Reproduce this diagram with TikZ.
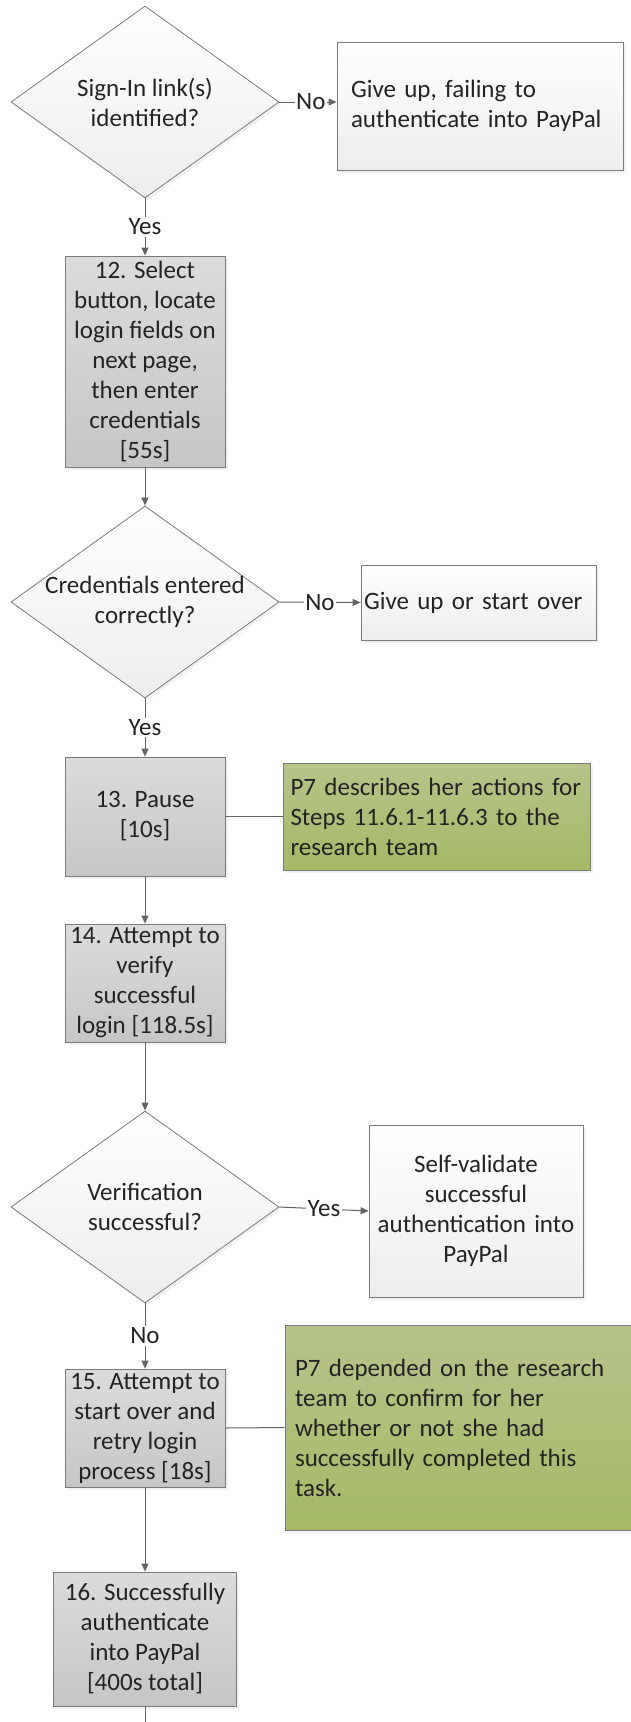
\documentclass[tikz,border=0pt]{standalone}
\usepackage{fontspec}
\setmainfont{Carlito}
\usetikzlibrary{shapes.geometric,arrows.meta,shadows}

\definecolor{stepTop}{RGB}{220,220,220}
\definecolor{stepBottom}{RGB}{198,198,198}
\definecolor{noteTop}{RGB}{182,196,138}
\definecolor{noteBottom}{RGB}{165,185,104}
\definecolor{lineGray}{RGB}{100,100,100}
\definecolor{textDark}{RGB}{35,35,35}

\newcommand{\chartfont}{\fontsize{25}{30}\selectfont}

\begin{document}
\begin{tikzpicture}[
        x=1pt, y=-1pt,
        every node/.style={font=\chartfont, text=textDark},
        shadowed/.style={drop shadow={shadow xshift=2.5pt, shadow yshift=-2.5pt, fill=black!10}},
        decision/.style={diamond, draw=lineGray!85, line width=0.8pt, top color=white, bottom color=black!7, minimum width=268pt, minimum height=192pt, inner sep=0pt, shadowed},
        process/.style={rectangle, draw=lineGray!85, line width=0.8pt, top color=stepTop, bottom color=stepBottom, minimum width=160pt, inner sep=0pt, align=center, shadowed},
        outcome/.style={rectangle, draw=lineGray!85, line width=0.8pt, top color=white, bottom color=black!7, inner ysep=0pt, shadowed},
        note/.style={rectangle, draw=lineGray!85, line width=0.8pt, top color=noteTop, bottom color=noteBottom, inner ysep=0pt, align=left, shadowed},
        link/.style={draw=lineGray, line width=1pt},
        flow/.style={link, -{Triangle[length=8pt, width=7pt]}},
        edge_label/.style={fill=white, inner sep=1.5pt, midway}
    ]
        \path[fill=white, use as bounding box] (0,0) rectangle (631,1722);

        % Sign-In link check
        \node[decision] (dec1) at (145,102) {};
        \node[align=center] (dec1_text) at (dec1) {Sign-In link(s)\\identified?};
        \node[outcome, minimum width=286pt, minimum height=128pt, text width=258pt, inner xsep=14pt, align=left] (giveup1) at (480,106) {Give up, failing to\\authenticate into PayPal};
        \draw[flow] (dec1.east) -- (dec1.east -| giveup1.west) node[edge_label, pos=0.55] {No};

        % Step 12
        \node[process, minimum height=211pt] (box12) at (145,361.5) {12. Select\\button, locate\\login fields on\\next page,\\then enter\\credentials\\{[}55s{]}};
        \draw[flow] (dec1.south) -- (box12.north) node[edge_label] {Yes};

        % Credentials check
        \node[decision] (dec2) at (145,602) {};
        \node[align=center] (dec2_text) at (dec2) {Credentials entered\\correctly?};
        \node[outcome, minimum width=235pt, minimum height=75pt, text width=229pt, inner xsep=3pt, align=left] (giveup2) at (478.5,602.5) {Give up or start over};
        \draw[flow] (box12.south) -- (dec2.north);
        \draw[flow] (dec2.east) -- (giveup2.west) node[edge_label] {No};

        % Step 13 and its note
        \node[process, minimum height=119pt] (box13) at (145,816.5) {13. Pause\\{[}10s{]}};
        \node[note, minimum width=307pt, minimum height=107pt, text width=292pt, inner xsep=7.5pt] (note1) at (436.5,816.5) {P7 describes her actions for\\Steps 11.6.1-11.6.3 to the\\research team};
        \draw[flow] (dec2.south) -- (box13.north) node[edge_label] {Yes};
        \draw[link] (box13.east) -- (note1.west);

        % Step 14
        \node[process, minimum height=118pt] (box14) at (145,983) {14. Attempt to\\verify\\successful\\login {[}118.5s{]}};
        \draw[flow] (box13.south) -- (box14.north);

        % Verification check
        \node[decision] (dec3) at (145,1207) {};
        \node[align=center] (dec3_text) at (dec3) {Verification\\successful?};
        \node[outcome, minimum width=214pt, minimum height=172pt, text width=200pt, inner xsep=7pt, align=center] (selfval) at (476,1211) {Self-validate\\successful\\authentication into\\PayPal};
        \draw[flow] (box14.south) -- (dec3.north);
        \draw[flow] (dec3.east) -- (selfval.west) node[edge_label] {Yes};

        % Step 15 and its note
        \node[process, minimum height=118pt] (box15) at (145,1428) {15. Attempt to\\start over and\\retry login\\process {[}18s{]}};
        \node[note, minimum width=355pt, minimum height=205pt, text width=335pt, inner xsep=10pt] (note2) at (462.5,1427.5) {P7 depended on the research\\team to confirm for her\\whether or not she had\\successfully completed this\\task.};
        \draw[flow] (dec3.south) -- (box15.north) node[edge_label] {No};
        \draw[link] (box15.east) -- (note2.west);

        % Step 16
        \node[process, minimum width=183pt, minimum height=134pt] (box16) at (145,1639) {16. Successfully\\authenticate\\into PayPal\\{[}400s total{]}};
        \coordinate (exit_end) at (145,1722);
        \draw[flow] (box15.south) -- (box16.north);
        \draw[link] (box16.south) -- (exit_end);

    \end{tikzpicture}
\end{document}
